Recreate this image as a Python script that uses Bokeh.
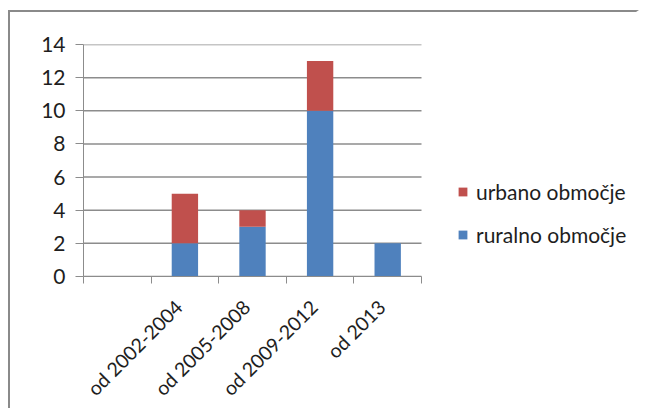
import math
from bokeh.plotting import figure
from bokeh.models import ColumnDataSource, FixedTicker, Range1d, Legend, LegendItem
from bokeh.embed import file_html
from bokeh.resources import INLINE

categories = ["", "od 2002-2004", "od 2005-2008", "od 2009-2012", "od 2013"]
ruralno = [0, 2, 3, 10, 2]
urbano = [0, 3, 1, 3, 0]
series_names = ["ruralno območje", "urbano območje"]
colors = ["#4F81BD", "#C0504D"]
y_ticks = [0, 2, 4, 6, 8, 10, 12, 14]

FONT = "Lato"
TXT = "#1e1e1e"
GRID = "#8c8c8c"

n = len(categories)
xs = [i + 0.5 for i in range(n)]
label_pos = [x - 0.09 for x in xs]  # rotated labels end slightly left of the slot centre
src = ColumnDataSource(dict(x=xs, ruralno=ruralno, urbano=urbano))
grid_src = ColumnDataSource(dict(x0=[0] * len(y_ticks), x1=[n] * len(y_ticks), y=y_ticks))

# frame is 558 px wide; one category slot is ~67.6 px, the rest holds the legend
p = figure(width=631, height=398, output_backend="svg", toolbar_location=None,
           x_range=Range1d(0, 558 / 67.6), y_range=Range1d(0, 14),
           min_border_left=73, min_border_right=0, min_border_top=32, min_border_bottom=133)
p.outline_line_color = None
p.border_fill_color = "white"
p.styles = {"margin-left": "8px", "margin-top": "10px",
            "border-top": "2px solid #8a8a8a", "border-left": "2px solid #8a8a8a",
            "border-right": "3px solid white", "border-bottom": "none",
            "outline": "none", "box-shadow": "none", "overflow": "hidden"}

p.xgrid.grid_line_color = None
p.ygrid.grid_line_color = None
p.segment(x0="x0", x1="x1", y0="y", y1="y", source=grid_src, line_color=GRID, line_width=1.5)

r = p.vbar_stack(["ruralno", "urbano"], x="x", width=0.39, color=colors, source=src,
                 line_color=None)

# x axis: labels at category centres, tick marks at boundaries
xa = p.xaxis[0]
xa.bounds = (0, n)
xa.ticker = FixedTicker(ticks=label_pos, minor_ticks=list(range(n + 1)))
xa.major_label_overrides = {x: c for x, c in zip(label_pos, categories)}
xa.major_tick_line_color = None
xa.minor_tick_line_color = GRID
xa.minor_tick_out = 7
xa.minor_tick_in = 0
xa.axis_line_color = GRID
xa.major_label_orientation = math.pi / 4
xa.major_label_text_font = FONT
xa.major_label_text_font_size = "19.5px"
xa.major_label_text_color = TXT
xa.major_label_standoff = 20

ya = p.yaxis[0]
ya.ticker = FixedTicker(ticks=y_ticks)
ya.minor_tick_line_color = None
ya.major_tick_line_color = GRID
ya.major_tick_out = 8
ya.major_tick_in = 0
ya.axis_line_color = GRID
ya.major_label_text_font = FONT
ya.major_label_text_font_size = "21px"
ya.major_label_text_color = TXT
ya.major_label_standoff = 10

legend = Legend(items=[LegendItem(label=series_names[1], renderers=[r[1]]),
                       LegendItem(label=series_names[0], renderers=[r[0]])],
                location=(374, 29))
legend.glyph_width = 11
legend.glyph_height = 11
legend.label_height = 20
legend.spacing = 18
legend.padding = 0
legend.margin = 0
legend.label_standoff = 8
legend.border_line_color = None
legend.background_fill_alpha = 0
legend.label_text_font = FONT
legend.label_text_font_size = "21px"
legend.label_text_color = TXT
p.add_layout(legend, "center")

open("out.html", "w").write(file_html(p, INLINE))
